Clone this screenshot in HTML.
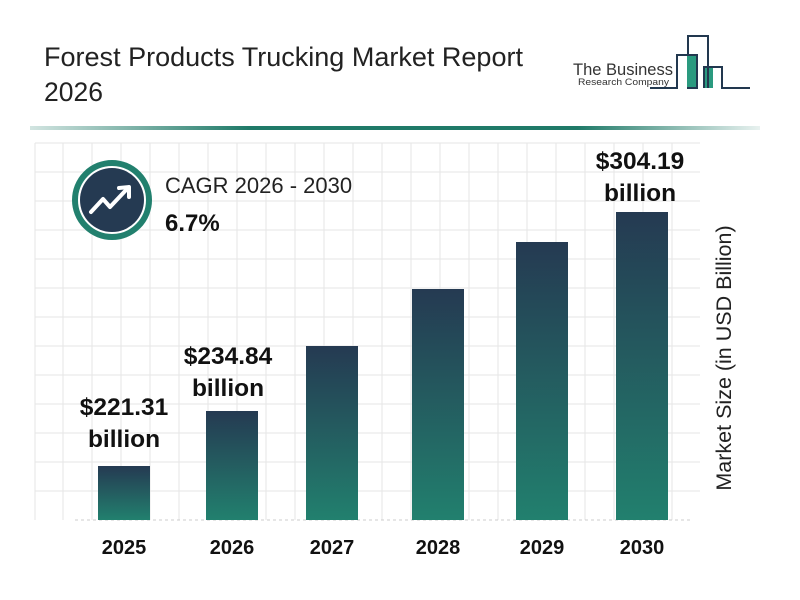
<!DOCTYPE html>
<html><head><meta charset="utf-8"><style>
body{margin:0;background:#fff;}
svg{display:block;font-family:"Liberation Sans",Arial,sans-serif;}
</style></head><body>
<svg width="800" height="600" viewBox="0 0 800 600" xmlns="http://www.w3.org/2000/svg">
<defs>
<linearGradient id="g" x1="0" y1="0" x2="0" y2="1">
<stop offset="0" stop-color="#253a52"/><stop offset="1" stop-color="#22806e"/>
</linearGradient>
<linearGradient id="hl" x1="0" y1="0" x2="1" y2="0">
<stop offset="0" stop-color="#1f7a68" stop-opacity="0.2"/><stop offset="0.3" stop-color="#1f7a68"/><stop offset="0.75" stop-color="#1f7a68"/><stop offset="1" stop-color="#1f7a68" stop-opacity="0.1"/>
</linearGradient>
</defs>
<rect width="800" height="600" fill="#fff"/>
<text x="44" y="66" font-size="26.5" fill="#222" textLength="479" lengthAdjust="spacingAndGlyphs">Forest Products Trucking Market Report</text>
<text x="44" y="101" font-size="26.5" fill="#222">2026</text>
<!-- logo -->
<text x="573" y="75" font-size="17" fill="#333" textLength="100" lengthAdjust="spacingAndGlyphs">The Business</text>
<text x="578" y="85" font-size="9" fill="#333" textLength="91" lengthAdjust="spacingAndGlyphs">Research Company</text>
<rect x="687" y="55" width="10" height="33" fill="#2a9a7f"/>
<rect x="704" y="67" width="9" height="21" fill="#2a9a7f"/>
<g fill="none" stroke="#22384f" stroke-width="2">
<polyline points="650,88 677,88 677,55 697,55 697,88 687,88"/>
<polyline points="688,55 688,36 708,36 708,88"/>
<polyline points="704,88 704,67 722,67 722,88 750,88"/>
</g>
<rect x="30" y="126" width="730" height="4" fill="url(#hl)"/>
<!-- grid -->
<g stroke="#e6e6e6" stroke-width="1">
<line x1="35" y1="143" x2="35" y2="520"/><line x1="63" y1="143" x2="63" y2="520"/><line x1="92" y1="143" x2="92" y2="520"/><line x1="121" y1="143" x2="121" y2="520"/><line x1="150" y1="143" x2="150" y2="520"/><line x1="179" y1="143" x2="179" y2="520"/><line x1="208" y1="143" x2="208" y2="520"/><line x1="237" y1="143" x2="237" y2="520"/><line x1="266" y1="143" x2="266" y2="520"/><line x1="295" y1="143" x2="295" y2="520"/><line x1="324" y1="143" x2="324" y2="520"/><line x1="353" y1="143" x2="353" y2="520"/><line x1="382" y1="143" x2="382" y2="520"/><line x1="411" y1="143" x2="411" y2="520"/><line x1="440" y1="143" x2="440" y2="520"/><line x1="469" y1="143" x2="469" y2="520"/><line x1="498" y1="143" x2="498" y2="520"/><line x1="527" y1="143" x2="527" y2="520"/><line x1="556" y1="143" x2="556" y2="520"/><line x1="585" y1="143" x2="585" y2="520"/><line x1="614" y1="143" x2="614" y2="520"/><line x1="643" y1="143" x2="643" y2="520"/><line x1="672" y1="143" x2="672" y2="520"/>
<line x1="35" y1="491" x2="700" y2="491"/><line x1="35" y1="462" x2="700" y2="462"/><line x1="35" y1="433" x2="700" y2="433"/><line x1="35" y1="404" x2="700" y2="404"/><line x1="35" y1="375" x2="700" y2="375"/><line x1="35" y1="346" x2="700" y2="346"/><line x1="35" y1="317" x2="700" y2="317"/><line x1="35" y1="288" x2="700" y2="288"/><line x1="35" y1="259" x2="700" y2="259"/><line x1="35" y1="230" x2="700" y2="230"/><line x1="35" y1="201" x2="700" y2="201"/><line x1="35" y1="172" x2="700" y2="172"/><line x1="35" y1="143" x2="700" y2="143"/>
</g>
<line x1="75" y1="520" x2="690" y2="520" stroke="#ccc" stroke-dasharray="3,3"/>
<!-- bars -->
<rect x="98" y="466" width="52" height="54" fill="url(#g)"/>
<rect x="206" y="411" width="52" height="109" fill="url(#g)"/>
<rect x="306" y="346" width="52" height="174" fill="url(#g)"/>
<rect x="412" y="289" width="52" height="231" fill="url(#g)"/>
<rect x="516" y="242" width="52" height="278" fill="url(#g)"/>
<rect x="616" y="212" width="52" height="308" fill="url(#g)"/>
<g font-size="24.5" font-weight="bold" fill="#111" text-anchor="middle">
<text x="124" y="415">$221.31</text><text x="124" y="447">billion</text>
<text x="228" y="364">$234.84</text><text x="228" y="396">billion</text>
<text x="640" y="169">$304.19</text><text x="640" y="201">billion</text>
</g>
<g font-size="20" font-weight="bold" fill="#111" text-anchor="middle">
<text x="124" y="554">2025</text><text x="232" y="554">2026</text><text x="332" y="554">2027</text><text x="438" y="554">2028</text><text x="542" y="554">2029</text><text x="642" y="554">2030</text>
</g>
<text transform="translate(731,358) rotate(-90)" font-size="21.5" fill="#222" text-anchor="middle">Market Size (in USD Billion)</text>
<!-- CAGR -->
<circle cx="112" cy="200" r="37" fill="#fff" stroke="#22806e" stroke-width="6"/>
<circle cx="112" cy="200" r="32" fill="#253a52"/>
<polyline points="91,212 103,199 110,207 127,189" fill="none" stroke="#fff" stroke-width="4" stroke-linejoin="round" stroke-linecap="round"/>
<polyline points="119,188 129,187 129,197" fill="none" stroke="#fff" stroke-width="4" stroke-linejoin="round" stroke-linecap="round"/>
<text x="165" y="193" font-size="22" fill="#222">CAGR 2026 - 2030</text>
<text x="165" y="231" font-size="24" font-weight="bold" fill="#111">6.7%</text>
</svg>
</body></html>
